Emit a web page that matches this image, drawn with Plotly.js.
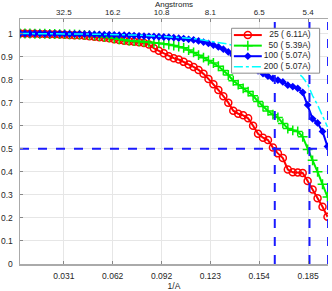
<!DOCTYPE html>
<html>
<head>
<meta charset="utf-8">
<script src="https://cdn.plot.ly/plotly-3.0.1.min.js"></script>
<style>html,body{margin:0;padding:0;background:#fff;}#chart{width:332px;height:291px;}</style>
</head>
<body>
<div id="chart"></div>
<script>
const freq = [0.003125,0.00625,0.009375,0.0125,0.015625,0.01875,0.021875,0.025,0.028125,0.03125,
0.034375,0.0375,0.040625,0.04375,0.046875,0.05,0.053125,0.05625,0.059375,0.0625,
0.065625,0.06875,0.071875,0.075,0.078125,0.08125,0.084375,0.0875,0.090625,0.09375,
0.096875,0.1,0.103125,0.10625,0.109375,0.1125,0.115625,0.11875,0.121875,0.125,
0.128125,0.13125,0.134375,0.1375,0.140625,0.14375,0.146875,0.15,0.153125,0.15625,
0.159375,0.1625,0.165625,0.16875,0.171875,0.175,0.178125,0.18125,0.184375,0.1875,
0.190625,0.19375,0.196875];

const fsc25 = [1.0,1.0,0.999,0.999,0.998,0.998,0.997,0.997,0.996,0.995,
0.994,0.993,0.992,0.99,0.988,0.986,0.984,0.982,0.979,0.975,
0.972,0.969,0.966,0.964,0.962,0.959,0.952,0.936,0.925,0.914,
0.901,0.893,0.887,0.877,0.866,0.855,0.842,0.825,0.803,0.78,
0.755,0.728,0.70,0.665,0.652,0.645,0.632,0.60,0.565,0.548,
0.538,0.505,0.48,0.46,0.41,0.398,0.397,0.395,0.36,0.323,
0.285,0.248,0.205];

const fsc50 = [1.0,1.0,1.0,0.999,0.999,0.999,0.998,0.998,0.997,0.997,
0.996,0.996,0.995,0.994,0.993,0.991,0.989,0.986,0.983,0.979,
0.975,0.972,0.969,0.967,0.966,0.964,0.962,0.96,0.958,0.956,
0.952,0.948,0.943,0.938,0.928,0.918,0.906,0.895,0.883,0.872,
0.858,0.84,0.82,0.795,0.778,0.762,0.748,0.73,0.705,0.683,
0.664,0.648,0.636,0.61,0.588,0.58,0.575,0.552,0.497,0.45,
0.40,0.346,0.291];

const fsc100 = [1.0,1.0,1.0,1.0,1.0,0.999,0.999,0.999,0.999,0.999,
0.998,0.998,0.998,0.997,0.997,0.996,0.996,0.995,0.995,0.994,
0.993,0.993,0.992,0.991,0.99,0.989,0.988,0.987,0.986,0.985,
0.984,0.982,0.98,0.978,0.975,0.972,0.968,0.963,0.957,0.95,
0.942,0.932,0.92,0.905,0.89,0.875,0.862,0.85,0.838,0.826,
0.815,0.805,0.798,0.79,0.776,0.77,0.762,0.745,0.69,0.63,
0.612,0.575,0.51];

const fsc200 = [1.0,1.0,1.0,1.0,1.0,1.0,0.999,0.999,0.999,0.999,
0.999,0.998,0.998,0.998,0.998,0.997,0.997,0.996,0.996,0.995,
0.995,0.994,0.994,0.993,0.993,0.992,0.991,0.99,0.989,0.988,
0.987,0.986,0.984,0.982,0.98,0.978,0.975,0.972,0.969,0.966,
0.962,0.958,0.954,0.948,0.942,0.935,0.928,0.92,0.913,0.905,
0.898,0.89,0.88,0.87,0.86,0.848,0.83,0.81,0.78,0.73,
0.69,0.645,0.595];

const seriesNames = ['25 ( 6.11A)','50 ( 5.39A)','100 ( 5.07A)','200 ( 5.07A)'];
const resolutions = [6.11, 5.39, 5.07];
const tickVals = [0.03077,0.06154,0.09231,0.12308,0.15385,0.18462];
const bottomTickText = ['0.031','0.062','0.092','0.123','0.154','0.185'];
const topTickText = ['32.5','16.2','10.8','8.1','6.5','5.4'];
const threshold = 0.5;

// ----- styling / layout (not data) -----
const xr = [0.003125, 0.1972];
const yr = [0, 1.063];
const dashBlue = '#1a1aff';
const fnt = {family: 'Liberation Sans, Arial, sans-serif', size: 8.5, color: '#262626'};
const fntTop = {family: 'Liberation Sans, Arial, sans-serif', size: 8, color: '#262626'};
const styles = [
  {mode: 'lines+markers', line: {color: '#ff0000', width: 2},
   marker: {symbol: 'circle-open', size: 7, color: '#ff0000', line: {width: 1.5, color: '#ff0000'}}},
  {mode: 'lines+markers', line: {color: '#00ee00', width: 2},
   marker: {symbol: 'cross-thin-open', size: 7, color: '#00ee00', line: {width: 1.5, color: '#00ee00'}}},
  {mode: 'lines+markers', line: {color: '#0000ff', width: 2},
   marker: {symbol: 'diamond', size: 6, color: '#0000ff'}},
  {mode: 'lines', line: {color: '#00ffff', width: 1.5, dash: 'dashdot'}}
];
// custom legend geometry in plot-pixel space (x3/y3 axes map 1:1 to pixels)
const plotPx = {left: 19.5, right: 328.4, top: 18.7, bottom: 264.3};
const legendBox = {x0: 231.7, x1: 320, y0: 28, y1: 73};
const legendRows = [34.8, 45.4, 56, 66.6];
const legendSample = {x0: 234, x1: 262, xm: 248, textRight: 311};

const series = [fsc25, fsc50, fsc100, fsc200];
const traces = [];
series.forEach((s, i) => {
  traces.push(Object.assign({x: freq, y: s, name: seriesNames[i], showlegend: false, hoverinfo: 'skip'}, styles[i]));
});
traces.push({x: [xr[0], xr[1]], y: [threshold, threshold], mode: 'lines', showlegend: false, hoverinfo: 'skip',
   line: {color: dashBlue, width: 2, dash: 'dash'}});
resolutions.forEach(r => {
  traces.push({x: [1/r, 1/r], y: [0, 1.05], mode: 'lines', showlegend: false, hoverinfo: 'skip',
    line: {color: dashBlue, width: 2, dash: 'dash'}});
});
// dummy trace for top axis
traces.push({x: [xr[0]], y: [0], xaxis: 'x2', mode: 'markers', marker: {opacity: 0}, showlegend: false, hoverinfo: 'skip'});

// legend box
const lb = legendBox;
traces.push({x: [lb.x0, lb.x1, lb.x1, lb.x0, lb.x0], y: [lb.y0, lb.y0, lb.y1, lb.y1, lb.y0],
  xaxis: 'x3', yaxis: 'y3', mode: 'lines', fill: 'toself', fillcolor: '#ffffff',
  line: {color: '#8c8c8c', width: 1}, showlegend: false, hoverinfo: 'skip'});
series.forEach((s, i) => {
  const st = styles[i];
  const yv = legendRows[i];
  traces.push({x: [legendSample.x0, legendSample.x1], y: [yv, yv], xaxis: 'x3', yaxis: 'y3',
    mode: 'lines', line: st.line, showlegend: false, hoverinfo: 'skip'});
  if (st.marker) {
    traces.push({x: [legendSample.xm], y: [yv], xaxis: 'x3', yaxis: 'y3',
      mode: 'markers', marker: st.marker, showlegend: false, hoverinfo: 'skip'});
  }
  traces.push({x: [legendSample.textRight], y: [yv], xaxis: 'x3', yaxis: 'y3', mode: 'text',
    text: [seriesNames[i]], textposition: 'middle left', textfont: fnt, showlegend: false, hoverinfo: 'skip'});
});

const layout = {
  width: 332, height: 291,
  margin: {l: plotPx.left, r: 332 - plotPx.right, t: plotPx.top, b: 291 - plotPx.bottom},
  paper_bgcolor: '#fff', plot_bgcolor: 'rgba(0,0,0,0)',
  font: fnt,
  showlegend: false,
  xaxis: {range: xr, tickvals: tickVals, ticktext: bottomTickText, ticks: 'inside', ticklen: 3,
    tickcolor: '#888', showgrid: true, gridcolor: '#e6e6e6', gridwidth: 1,
    showline: true, linecolor: '#aaa', linewidth: 1.5, zeroline: false, ticklabelstandoff: 3,
    title: {text: '1/A', font: fnt, standoff: 3}, tickfont: fnt},
  xaxis2: {range: xr, overlaying: 'x', side: 'top', tickvals: tickVals, ticktext: topTickText,
    ticks: 'inside', ticklen: 3, tickcolor: '#888', showgrid: false, showline: true, linecolor: '#aaa',
    linewidth: 1, zeroline: false, ticklabelstandoff: 0,
    title: {text: 'Angstroms', font: fntTop, standoff: 0}, tickfont: fntTop},
  yaxis: {range: yr, dtick: 0.1, tick0: 0, ticks: 'inside', ticklen: 3, tickcolor: '#888',
    showgrid: true, gridcolor: '#e6e6e6', showline: true, linecolor: '#aaa', linewidth: 1.5,
    zeroline: false, tickfont: fnt, ticklabelstandoff: 4},
  xaxis3: {domain: [0, 1], range: [plotPx.left, plotPx.right], visible: false, anchor: 'y3'},
  yaxis3: {domain: [0, 1], range: [plotPx.bottom, plotPx.top], visible: false, anchor: 'x3'}
};

Plotly.newPlot('chart', traces, layout, {displayModeBar: false, staticPlot: true});
</script>
</body>
</html>
